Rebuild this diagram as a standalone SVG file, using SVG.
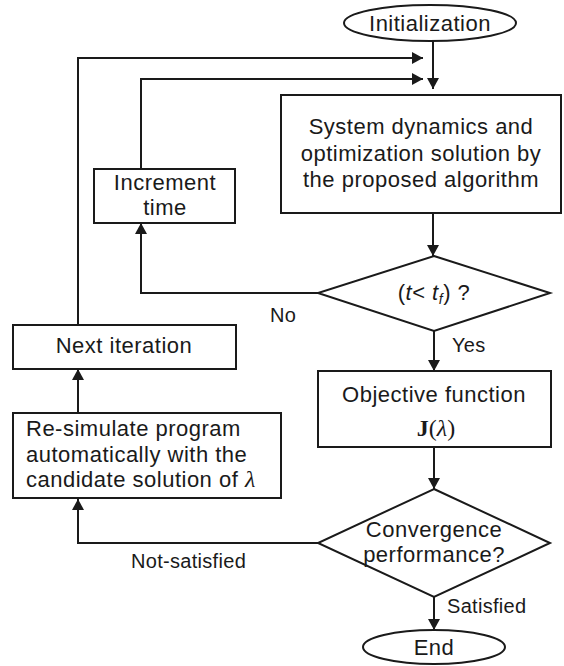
<svg xmlns="http://www.w3.org/2000/svg" width="564" height="666" viewBox="0 0 564 666">
<defs>
<marker id="ah" markerUnits="userSpaceOnUse" markerWidth="12" markerHeight="12" refX="11" refY="6" orient="auto">
<path d="M0,0 L11,6 L0,12 z" fill="#1a1a1a"/>
</marker>
<style>
.s{fill:#fff;stroke:#1a1a1a;stroke-width:2}
.t{font-family:"Liberation Sans",Arial,sans-serif;font-size:22px;letter-spacing:0.5px;fill:#1a1a1a}
.c{text-anchor:middle}
.l{font-family:"Liberation Sans",Arial,sans-serif;font-size:20px;letter-spacing:0.3px;fill:#1a1a1a}
.m{font-family:"Liberation Serif","Times New Roman",serif}
.e{fill:none;stroke:#1a1a1a;stroke-width:2;marker-end:url(#ah)}
</style>
</defs>
<rect width="564" height="666" fill="#fff"/>
<g id="connectors">
<path class="e" d="M433,41 V89"/>
<path class="e" d="M78,325 V58 H423"/>
<path class="e" d="M141,169 V79 H423"/>
<path class="e" d="M433,213 V256"/>
<path class="e" d="M318,293 H141 V223"/>
<path class="e" d="M434,331 V371"/>
<path class="e" d="M434,447 V489"/>
<path class="e" d="M78,413 V369"/>
<path class="e" d="M318,543 H78 V499"/>
<path class="e" d="M434,597 V630"/>
<text class="l" x="270" y="322">No</text>
<text class="l" x="452" y="352">Yes</text>
<text class="l" x="131" y="568">Not-satisfied</text>
<text class="l" x="447" y="613">Satisfied</text>
</g>
<g id="init">
<ellipse class="s" cx="430" cy="23" rx="86" ry="18"/>
<text class="t c" x="430" y="31">Initialization</text>
</g>
<g id="system">
<rect class="s" x="281" y="95" width="280" height="118"/>
<text class="t c" x="421" y="134">System dynamics and</text>
<text class="t c" x="421" y="161">optimization solution by</text>
<text class="t c" x="421" y="187">the proposed algorithm</text>
</g>
<g id="increment">
<rect class="s" x="94" y="169" width="141" height="54"/>
<text class="t c" x="165" y="190">Increment</text>
<text class="t c" x="165" y="215">time</text>
</g>
<g id="check-time">
<polygon class="s" points="434,256 550,293 434,331 318,293"/>
<text class="t c" x="434" y="300">(<tspan font-style="italic">t</tspan>&lt; <tspan font-style="italic">t</tspan><tspan font-style="italic" font-size="14" dy="4">f</tspan><tspan dy="-4">) ?</tspan></text>
</g>
<g id="next-iteration">
<rect class="s" x="13" y="325" width="223" height="44"/>
<text class="t c" x="124" y="353">Next iteration</text>
</g>
<g id="objective">
<rect class="s" x="318" y="371" width="233" height="76"/>
<text class="t c" x="434" y="402">Objective function</text>
<text class="m c" x="436" y="436" font-size="24" fill="#1a1a1a"><tspan font-weight="bold">J</tspan>(<tspan font-style="italic">λ</tspan>)</text>
</g>
<g id="resimulate">
<rect class="s" x="13" y="413" width="268" height="85"/>
<text class="t" x="26" y="436">Re-simulate program</text>
<text class="t" x="26" y="462">automatically with the</text>
<text class="t" x="26" y="487">candidate solution of <tspan class="m" font-style="italic" font-size="24">λ</tspan></text>
</g>
<g id="convergence">
<polygon class="s" points="434,489 550,543 434,597 318,543"/>
<text class="t c" x="434" y="537">Convergence</text>
<text class="t c" x="434" y="562">performance?</text>
</g>
<g id="end">
<ellipse class="s" cx="434" cy="647" rx="71" ry="17"/>
<text class="t c" x="434" y="655">End</text>
</g>
</svg>
